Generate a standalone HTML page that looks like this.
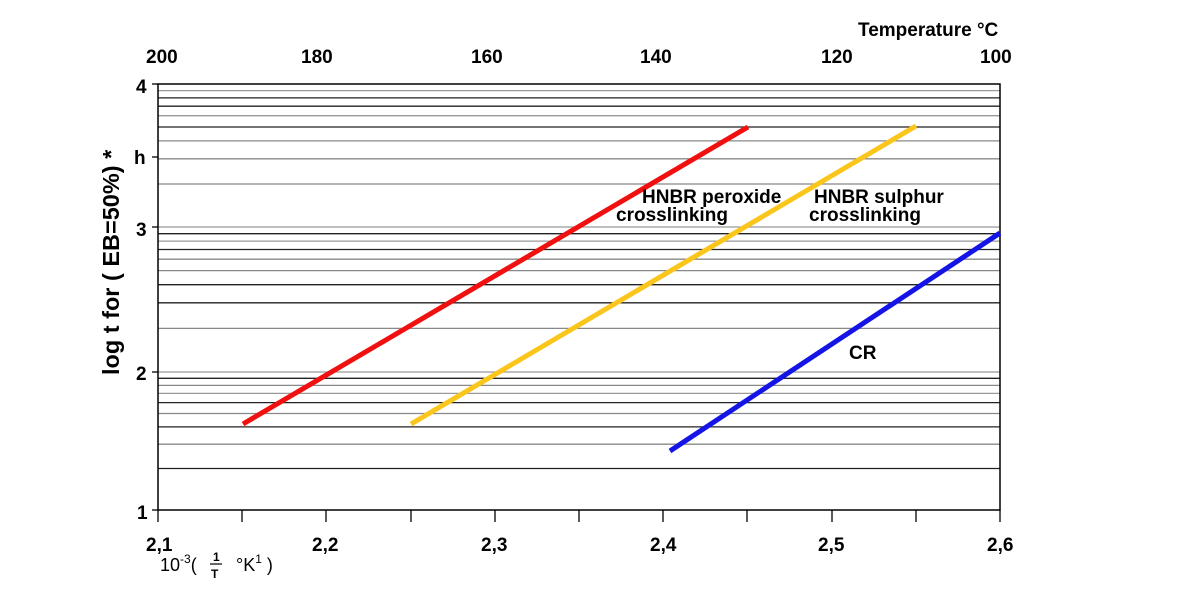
<!DOCTYPE html>
<html><head><meta charset="utf-8"><style>
html,body{margin:0;padding:0;background:#fff;width:1183px;height:614px;overflow:hidden}
text{font-family:"Liberation Sans",Arial,sans-serif;font-weight:bold;fill:#000}
</style></head><body>
<svg width="1183" height="614" viewBox="0 0 1183 614" xmlns="http://www.w3.org/2000/svg">
<g stroke-width="1.3">
<line x1="158" x2="1000" y1="468.5" y2="468.5" stroke="#222"/>
<line x1="158" x2="1000" y1="444.2" y2="444.2" stroke="#888"/>
<line x1="158" x2="1000" y1="426.9" y2="426.9" stroke="#222"/>
<line x1="158" x2="1000" y1="413.5" y2="413.5" stroke="#888"/>
<line x1="158" x2="1000" y1="402.6" y2="402.6" stroke="#222"/>
<line x1="158" x2="1000" y1="393.4" y2="393.4" stroke="#999"/>
<line x1="158" x2="1000" y1="385.4" y2="385.4" stroke="#888"/>
<line x1="158" x2="1000" y1="378.3" y2="378.3" stroke="#222"/>
<line x1="158" x2="1000" y1="372" y2="372" stroke="#999"/>
<line x1="158" x2="1000" y1="328.4" y2="328.4" stroke="#888"/>
<line x1="158" x2="1000" y1="302.8" y2="302.8" stroke="#222"/>
<line x1="158" x2="1000" y1="284.7" y2="284.7" stroke="#222"/>
<line x1="158" x2="1000" y1="270.6" y2="270.6" stroke="#888"/>
<line x1="158" x2="1000" y1="259.2" y2="259.2" stroke="#888"/>
<line x1="158" x2="1000" y1="249.5" y2="249.5" stroke="#222"/>
<line x1="158" x2="1000" y1="241.1" y2="241.1" stroke="#999"/>
<line x1="158" x2="1000" y1="233.7" y2="233.7" stroke="#222"/>
<line x1="158" x2="1000" y1="227" y2="227" stroke="#999"/>
<line x1="158" x2="1000" y1="184" y2="184" stroke="#888"/>
<line x1="158" x2="1000" y1="158.8" y2="158.8" stroke="#888"/>
<line x1="158" x2="1000" y1="140.9" y2="140.9" stroke="#888"/>
<line x1="158" x2="1000" y1="127" y2="127" stroke="#222"/>
<line x1="158" x2="1000" y1="115.7" y2="115.7" stroke="#999"/>
<line x1="158" x2="1000" y1="106.2" y2="106.2" stroke="#222"/>
<line x1="158" x2="1000" y1="97.9" y2="97.9" stroke="#222"/>
<line x1="158" x2="1000" y1="90.6" y2="90.6" stroke="#999"/>
</g>
<rect x="158" y="84" width="842" height="426" fill="none" stroke="#000" stroke-width="1.5"/>
<g stroke="#000" stroke-width="1.3">
<line x1="152" x2="158" y1="84" y2="84"/><line x1="152" x2="158" y1="157" y2="157"/>
<line x1="152" x2="158" y1="227" y2="227"/><line x1="152" x2="158" y1="372" y2="372"/>
<line x1="152" x2="158" y1="510" y2="510"/>
<line x1="158" x2="158" y1="510" y2="522"/><line x1="242" x2="242" y1="510" y2="522"/>
<line x1="326" x2="326" y1="510" y2="522"/><line x1="411" x2="411" y1="510" y2="522"/>
<line x1="495" x2="495" y1="510" y2="522"/><line x1="579" x2="579" y1="510" y2="522"/>
<line x1="663" x2="663" y1="510" y2="522"/><line x1="747" x2="747" y1="510" y2="522"/>
<line x1="832" x2="832" y1="510" y2="522"/><line x1="916" x2="916" y1="510" y2="522"/>
<line x1="1000" x2="1000" y1="510" y2="522"/>
</g>
<g stroke-width="5" stroke-linecap="butt">
<line x1="243" y1="424" x2="748" y2="127" stroke="#f01010"/>
<line x1="411" y1="424" x2="916" y2="126" stroke="#fbc61c"/>
<line x1="670" y1="451" x2="1000" y2="233" stroke="#1414e6"/>
</g>
<g font-size="19">
<text x="136" y="93">4</text><text x="134" y="164">h</text>
<text x="136" y="236">3</text><text x="136" y="380">2</text><text x="137" y="519">1</text>
<text x="146" y="551">2,1</text><text x="312" y="551">2,2</text><text x="481" y="551">2,3</text>
<text x="650" y="551">2,4</text><text x="818" y="551">2,5</text><text x="987" y="551">2,6</text>
<text x="146" y="63">200</text><text x="301" y="63">180</text><text x="471" y="63">160</text>
<text x="640" y="63">140</text><text x="821" y="63">120</text><text x="980" y="63">100</text>
<text x="858" y="36">Temperature °C</text>
<text x="642" y="203">HNBR peroxide</text><text x="616" y="221">crosslinking</text>
<text x="814" y="203">HNBR sulphur</text><text x="809" y="221">crosslinking</text>
<text x="849" y="359">CR</text>
</g>
<text transform="translate(119,375) rotate(-90)" font-size="23.5">log t for ( EB=50%) *</text>
<g font-size="18">
<text x="160" y="571" style="font-weight:normal">10<tspan font-size="12" dy="-8">-3</tspan><tspan dy="8">(</tspan></text>
<text x="213" y="561" font-size="12">1</text>
<line x1="210" x2="222" y1="564" y2="564" stroke="#000" stroke-width="1.2"/>
<text x="211" y="578" font-size="12">T</text>
<text x="236" y="571" style="font-weight:normal">°K<tspan font-size="12" dy="-8">1</tspan><tspan dy="8">  )</tspan></text>
</g>
</svg>
</body></html>
